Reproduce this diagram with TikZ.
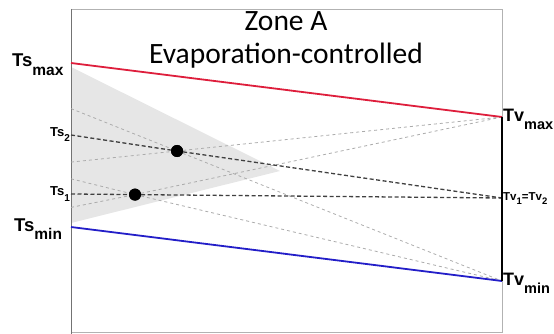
\documentclass[tikz,border=0pt]{standalone}
\usepackage{fontspec}
\setmainfont{Liberation Sans}
\newfontfamily\titlefont{Carlito}
\definecolor{myred}{RGB}{222,30,60}
\definecolor{myblue}{RGB}{35,30,200}
\definecolor{coneshade}{RGB}{230,230,230}
\newcommand{\mylab}[5]{{\bfseries\fontsize{#1}{#1}\selectfont #3}{\bfseries\fontsize{#2}{#2}\selectfont\raisebox{-#5pt}{#4}}}
\begin{document}
\begin{tikzpicture}[x=1pt,y=-1pt,
  darkdash/.style={draw=black!75,line width=1.3pt,dash pattern=on 4pt off 2.5pt},
  lightdash/.style={draw=black!33,line width=0.8pt,dash pattern=on 3pt off 3pt},
  lim/.style={line width=1.8pt},
  frame/.style={draw=black!30,line width=0.8pt},
  dot/.style={circle,fill=black,inner sep=0pt,minimum size=12pt},
  lab/.style={inner sep=0pt}]
\useasboundingbox (0,0) rectangle (554,334);
% key points
\coordinate (TsMax) at (71,63);
\coordinate (TsMin) at (71,227);
\coordinate (TvMax) at (502,117);
\coordinate (TvMin) at (502,281);
\coordinate (Ts2) at (71,135);
\coordinate (Ts1) at (71,194);
\coordinate (Tv12) at (502,198);
\coordinate (L2a) at (71,162.1);
\coordinate (L2b) at (71,108.6);
\coordinate (L1a) at (71,207.4);
\coordinate (L1b) at (71,178.8);
% shaded cone
\fill[coneshade] (71,67) -- (280,171) -- (71,223) -- cycle;
% frame
\draw[frame] (71,9) -- (502,9) -- (502,332) -- (71,332);
\draw[draw=black!55,line width=1pt] (71,9) -- (71,334);
% dots
\node[dot] (D2) at (177,151) {};
\node[dot] (D1) at (135,194.6) {};
% light dashed lines through dots
\draw[lightdash] (L2a) -- (D2) -- (TvMax);
\draw[lightdash] (L2b) -- (D2) -- (TvMin);
\draw[lightdash] (L1a) -- (D1) -- (TvMax);
\draw[lightdash] (L1b) -- (D1) -- (TvMin);
% dark dashed
\draw[darkdash] (Ts2) -- (D2) -- (Tv12);
\draw[darkdash] (Ts1) -- (D1) -- (Tv12);
% limits
\draw[lim,myred] (TsMax) -- (TvMax);
\draw[lim,myblue] (TsMin) -- (TvMin);
\draw[line width=1.4pt] (TvMax) -- (TvMin);
\node[dot] at (D2) {};
\node[dot] at (D1) {};
% titles
\node[lab,anchor=base] (t1) at (286,31) {\titlefont\fontsize{29.5}{29.5}\selectfont Zone A};
\node[lab,anchor=base] (t2) at (286,64) {\titlefont\fontsize{29.5}{29.5}\selectfont Evaporation-controlled};
% labels
\node[lab,anchor=base west] (lTsMax) at (12,67) {\mylab{18.5}{15.5}{Ts}{max}{9}};
\node[lab,anchor=base west] (lTsMin) at (14,231) {\mylab{18.5}{15.5}{Ts}{min}{8}};
\node[lab,anchor=base west] (lTs2) at (50,137) {\mylab{13}{10}{Ts}{2}{5}};
\node[lab,anchor=base west] (lTs1) at (50,195) {\mylab{13}{10}{Ts}{1}{6}};
\node[lab,anchor=base west] (lTvMax) at (503,122) {\mylab{18}{14.5}{Tv}{max}{8}};
\node[lab,anchor=base west] (lTvMin) at (503,285) {\mylab{18}{14.5}{Tv}{min}{8}};
\node[lab,anchor=base west] (lTv12) at (503,200) {\mylab{11.5}{9.5}{Tv}{1}{5}\mylab{11.5}{9.5}{=Tv}{2}{5}};
\end{tikzpicture}
\end{document}
